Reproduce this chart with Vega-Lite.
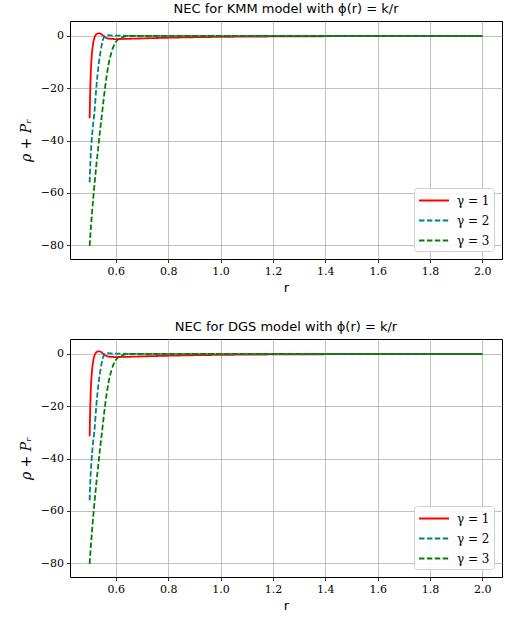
{
  "$schema": "https://vega.github.io/schema/vega-lite/v6.json",
  "padding": {"left": 18, "top": 2, "right": 11, "bottom": 5},
  "background": "white",
  "datasets": {
    "nec": [
      {"m":"KMM","g":"γ = 1","r":0.5,"v":-31.5},{"m":"KMM","g":"γ = 1","r":0.502,"v":-22},{"m":"KMM","g":"γ = 1","r":0.504,"v":-15},{"m":"KMM","g":"γ = 1","r":0.507,"v":-9},{"m":"KMM","g":"γ = 1","r":0.51,"v":-5.5},{"m":"KMM","g":"γ = 1","r":0.514,"v":-2.5},{"m":"KMM","g":"γ = 1","r":0.518,"v":-0.8},{"m":"KMM","g":"γ = 1","r":0.523,"v":0.3},{"m":"KMM","g":"γ = 1","r":0.53,"v":0.9},{"m":"KMM","g":"γ = 1","r":0.537,"v":1.0},{"m":"KMM","g":"γ = 1","r":0.544,"v":0.7},{"m":"KMM","g":"γ = 1","r":0.55,"v":0.2},{"m":"KMM","g":"γ = 1","r":0.556,"v":-0.3},{"m":"KMM","g":"γ = 1","r":0.563,"v":-0.7},{"m":"KMM","g":"γ = 1","r":0.572,"v":-1.0},{"m":"KMM","g":"γ = 1","r":0.585,"v":-1.15},{"m":"KMM","g":"γ = 1","r":0.6,"v":-1.2},{"m":"KMM","g":"γ = 1","r":0.63,"v":-1.15},{"m":"KMM","g":"γ = 1","r":0.67,"v":-1.05},{"m":"KMM","g":"γ = 1","r":0.72,"v":-0.9},{"m":"KMM","g":"γ = 1","r":0.8,"v":-0.7},{"m":"KMM","g":"γ = 1","r":0.9,"v":-0.5},{"m":"KMM","g":"γ = 1","r":1.0,"v":-0.37},{"m":"KMM","g":"γ = 1","r":1.1,"v":-0.27},{"m":"KMM","g":"γ = 1","r":1.25,"v":-0.18},{"m":"KMM","g":"γ = 1","r":1.4,"v":-0.12},{"m":"KMM","g":"γ = 1","r":1.6,"v":-0.08},{"m":"KMM","g":"γ = 1","r":1.8,"v":-0.05},{"m":"KMM","g":"γ = 1","r":2.0,"v":-0.03},
      {"m":"KMM","g":"γ = 2","r":0.5,"v":-56},{"m":"KMM","g":"γ = 2","r":0.503,"v":-48},{"m":"KMM","g":"γ = 2","r":0.507,"v":-41},{"m":"KMM","g":"γ = 2","r":0.512,"v":-35},{"m":"KMM","g":"γ = 2","r":0.519,"v":-28.5},{"m":"KMM","g":"γ = 2","r":0.525,"v":-20.5},{"m":"KMM","g":"γ = 2","r":0.53,"v":-15},{"m":"KMM","g":"γ = 2","r":0.535,"v":-10.5},{"m":"KMM","g":"γ = 2","r":0.541,"v":-6.4},{"m":"KMM","g":"γ = 2","r":0.546,"v":-3.5},{"m":"KMM","g":"γ = 2","r":0.551,"v":-1.4},{"m":"KMM","g":"γ = 2","r":0.556,"v":-0.3},{"m":"KMM","g":"γ = 2","r":0.562,"v":0.2},{"m":"KMM","g":"γ = 2","r":0.57,"v":0.3},{"m":"KMM","g":"γ = 2","r":0.58,"v":0.2},{"m":"KMM","g":"γ = 2","r":0.6,"v":0.1},{"m":"KMM","g":"γ = 2","r":0.7,"v":0.03},{"m":"KMM","g":"γ = 2","r":1.0,"v":0.01},{"m":"KMM","g":"γ = 2","r":1.5,"v":0.0},{"m":"KMM","g":"γ = 2","r":2.0,"v":0.0},
      {"m":"KMM","g":"γ = 3","r":0.5,"v":-80.3},{"m":"KMM","g":"γ = 3","r":0.505,"v":-73},{"m":"KMM","g":"γ = 3","r":0.51,"v":-66.5},{"m":"KMM","g":"γ = 3","r":0.517,"v":-58.5},{"m":"KMM","g":"γ = 3","r":0.525,"v":-50},{"m":"KMM","g":"γ = 3","r":0.533,"v":-42.5},{"m":"KMM","g":"γ = 3","r":0.54,"v":-36},{"m":"KMM","g":"γ = 3","r":0.547,"v":-30},{"m":"KMM","g":"γ = 3","r":0.555,"v":-23},{"m":"KMM","g":"γ = 3","r":0.564,"v":-16},{"m":"KMM","g":"γ = 3","r":0.573,"v":-10.5},{"m":"KMM","g":"γ = 3","r":0.583,"v":-6.4},{"m":"KMM","g":"γ = 3","r":0.592,"v":-3.8},{"m":"KMM","g":"γ = 3","r":0.6,"v":-2.3},{"m":"KMM","g":"γ = 3","r":0.609,"v":-1.3},{"m":"KMM","g":"γ = 3","r":0.62,"v":-0.6},{"m":"KMM","g":"γ = 3","r":0.635,"v":-0.2},{"m":"KMM","g":"γ = 3","r":0.65,"v":0.0},{"m":"KMM","g":"γ = 3","r":0.7,"v":0.02},{"m":"KMM","g":"γ = 3","r":1.0,"v":0.01},{"m":"KMM","g":"γ = 3","r":2.0,"v":0.0},
      {"m":"DGS","g":"γ = 1","r":0.5,"v":-31.5},{"m":"DGS","g":"γ = 1","r":0.502,"v":-22},{"m":"DGS","g":"γ = 1","r":0.504,"v":-15},{"m":"DGS","g":"γ = 1","r":0.507,"v":-9},{"m":"DGS","g":"γ = 1","r":0.51,"v":-5.5},{"m":"DGS","g":"γ = 1","r":0.514,"v":-2.5},{"m":"DGS","g":"γ = 1","r":0.518,"v":-0.8},{"m":"DGS","g":"γ = 1","r":0.523,"v":0.3},{"m":"DGS","g":"γ = 1","r":0.53,"v":0.9},{"m":"DGS","g":"γ = 1","r":0.537,"v":1.0},{"m":"DGS","g":"γ = 1","r":0.544,"v":0.7},{"m":"DGS","g":"γ = 1","r":0.55,"v":0.2},{"m":"DGS","g":"γ = 1","r":0.556,"v":-0.3},{"m":"DGS","g":"γ = 1","r":0.563,"v":-0.7},{"m":"DGS","g":"γ = 1","r":0.572,"v":-1.0},{"m":"DGS","g":"γ = 1","r":0.585,"v":-1.15},{"m":"DGS","g":"γ = 1","r":0.6,"v":-1.2},{"m":"DGS","g":"γ = 1","r":0.63,"v":-1.15},{"m":"DGS","g":"γ = 1","r":0.67,"v":-1.05},{"m":"DGS","g":"γ = 1","r":0.72,"v":-0.9},{"m":"DGS","g":"γ = 1","r":0.8,"v":-0.7},{"m":"DGS","g":"γ = 1","r":0.9,"v":-0.5},{"m":"DGS","g":"γ = 1","r":1.0,"v":-0.37},{"m":"DGS","g":"γ = 1","r":1.1,"v":-0.27},{"m":"DGS","g":"γ = 1","r":1.25,"v":-0.18},{"m":"DGS","g":"γ = 1","r":1.4,"v":-0.12},{"m":"DGS","g":"γ = 1","r":1.6,"v":-0.08},{"m":"DGS","g":"γ = 1","r":1.8,"v":-0.05},{"m":"DGS","g":"γ = 1","r":2.0,"v":-0.03},
      {"m":"DGS","g":"γ = 2","r":0.5,"v":-56},{"m":"DGS","g":"γ = 2","r":0.503,"v":-48},{"m":"DGS","g":"γ = 2","r":0.507,"v":-41},{"m":"DGS","g":"γ = 2","r":0.512,"v":-35},{"m":"DGS","g":"γ = 2","r":0.519,"v":-28.5},{"m":"DGS","g":"γ = 2","r":0.525,"v":-20.5},{"m":"DGS","g":"γ = 2","r":0.53,"v":-15},{"m":"DGS","g":"γ = 2","r":0.535,"v":-10.5},{"m":"DGS","g":"γ = 2","r":0.541,"v":-6.4},{"m":"DGS","g":"γ = 2","r":0.546,"v":-3.5},{"m":"DGS","g":"γ = 2","r":0.551,"v":-1.4},{"m":"DGS","g":"γ = 2","r":0.556,"v":-0.3},{"m":"DGS","g":"γ = 2","r":0.562,"v":0.2},{"m":"DGS","g":"γ = 2","r":0.57,"v":0.3},{"m":"DGS","g":"γ = 2","r":0.58,"v":0.2},{"m":"DGS","g":"γ = 2","r":0.6,"v":0.1},{"m":"DGS","g":"γ = 2","r":0.7,"v":0.03},{"m":"DGS","g":"γ = 2","r":1.0,"v":0.01},{"m":"DGS","g":"γ = 2","r":1.5,"v":0.0},{"m":"DGS","g":"γ = 2","r":2.0,"v":0.0},
      {"m":"DGS","g":"γ = 3","r":0.5,"v":-80.3},{"m":"DGS","g":"γ = 3","r":0.505,"v":-73},{"m":"DGS","g":"γ = 3","r":0.51,"v":-66.5},{"m":"DGS","g":"γ = 3","r":0.517,"v":-58.5},{"m":"DGS","g":"γ = 3","r":0.525,"v":-50},{"m":"DGS","g":"γ = 3","r":0.533,"v":-42.5},{"m":"DGS","g":"γ = 3","r":0.54,"v":-36},{"m":"DGS","g":"γ = 3","r":0.547,"v":-30},{"m":"DGS","g":"γ = 3","r":0.555,"v":-23},{"m":"DGS","g":"γ = 3","r":0.564,"v":-16},{"m":"DGS","g":"γ = 3","r":0.573,"v":-10.5},{"m":"DGS","g":"γ = 3","r":0.583,"v":-6.4},{"m":"DGS","g":"γ = 3","r":0.592,"v":-3.8},{"m":"DGS","g":"γ = 3","r":0.6,"v":-2.3},{"m":"DGS","g":"γ = 3","r":0.609,"v":-1.3},{"m":"DGS","g":"γ = 3","r":0.62,"v":-0.6},{"m":"DGS","g":"γ = 3","r":0.635,"v":-0.2},{"m":"DGS","g":"γ = 3","r":0.65,"v":0.0},{"m":"DGS","g":"γ = 3","r":0.7,"v":0.02},{"m":"DGS","g":"γ = 3","r":1.0,"v":0.01},{"m":"DGS","g":"γ = 3","r":2.0,"v":0.0}
    ]
  },
  "spacing": 25,
  "vconcat": [
    {
      "title": "NEC for KMM model with ϕ(r) = k/r",
      "width": 432, "height": 238,
      "data": {"name": "nec"},
      "transform": [{"filter": "datum.m === 'KMM'"}],
      "mark": {"type": "line", "strokeWidth": 1.8, "interpolate": "monotone"},
      "encoding": {
        "x": {"field": "r", "type": "quantitative", "title": "r",
              "scale": {"domain": [0.425, 2.075], "nice": false, "zero": false},
              "axis": {"values": [0.6, 0.8, 1.0, 1.2, 1.4, 1.6, 1.8, 2.0], "format": ".1f"}},
        "y": {"field": "v", "type": "quantitative", "title": "ρ + Pᵣ",
              "scale": {"domain": [-85.3, 5.7], "nice": false, "zero": false},
              "axis": {"values": [-80, -60, -40, -20, 0], "format": "d"}},
        "color": {"field": "g", "type": "nominal",
                  "scale": {"domain": ["γ = 1", "γ = 2", "γ = 3"], "range": ["#ff0000", "#008080", "#008000"]},
                  "legend": {"title": null}},
        "strokeDash": {"field": "g", "type": "nominal",
                  "scale": {"domain": ["γ = 1", "γ = 2", "γ = 3"], "range": [[1, 0], [5.5, 2.4], [5.5, 2.4]]},
                  "legend": {"title": null}}
      }
    },
    {
      "title": "NEC for DGS model with ϕ(r) = k/r",
      "width": 432, "height": 238,
      "data": {"name": "nec"},
      "transform": [{"filter": "datum.m === 'DGS'"}],
      "mark": {"type": "line", "strokeWidth": 1.8, "interpolate": "monotone"},
      "encoding": {
        "x": {"field": "r", "type": "quantitative", "title": "r",
              "scale": {"domain": [0.425, 2.075], "nice": false, "zero": false},
              "axis": {"values": [0.6, 0.8, 1.0, 1.2, 1.4, 1.6, 1.8, 2.0], "format": ".1f"}},
        "y": {"field": "v", "type": "quantitative", "title": "ρ + Pᵣ",
              "scale": {"domain": [-85.3, 5.7], "nice": false, "zero": false},
              "axis": {"values": [-80, -60, -40, -20, 0], "format": "d"}},
        "color": {"field": "g", "type": "nominal",
                  "scale": {"domain": ["γ = 1", "γ = 2", "γ = 3"], "range": ["#ff0000", "#008080", "#008000"]},
                  "legend": {"title": null}},
        "strokeDash": {"field": "g", "type": "nominal",
                  "scale": {"domain": ["γ = 1", "γ = 2", "γ = 3"], "range": [[1, 0], [5.5, 2.4], [5.5, 2.4]]},
                  "legend": {"title": null}}
      }
    }
  ],
  "resolve": {"legend": {"color": "independent", "strokeDash": "independent"}, "scale": {"color": "independent", "strokeDash": "independent"}},
  "config": {
    "view": {"stroke": "#000000", "strokeWidth": 1},
    "title": {"font": "DejaVu Sans", "fontSize": 13, "fontWeight": "normal", "color": "#000000", "offset": 5, "anchor": "middle"},
    "axis": {
      "domain": false,
      "grid": true, "gridColor": "#b0b0b0", "gridWidth": 0.8,
      "ticks": true, "tickColor": "#000000", "tickSize": 3.5, "tickWidth": 0.8,
      "labelFont": "DejaVu Serif", "labelFontSize": 11, "labelColor": "#000000", "labelPadding": 3,
      "titleColor": "#000000", "titleFontWeight": "normal"
    },
    "axisX": {"titleFont": "DejaVu Sans", "titleFontSize": 13, "titlePadding": 5},
    "axisY": {"titleFont": "DejaVu Serif", "titleFontStyle": "italic", "titleFontSize": 14, "titlePadding": 7},
    "legend": {
      "orient": "bottom-right", "offset": 8,
      "fillColor": "rgba(255,255,255,0.85)", "strokeColor": "#d0d0d0", "cornerRadius": 3, "padding": 4,
      "symbolType": "M-1,0L3,0", "symbolSize": 225, "symbolStrokeWidth": 1.8,
      "labelFont": "DejaVu Serif", "labelFontSize": 12, "labelColor": "#000000", "labelOffset": 22,
      "rowPadding": 5
    }
  }
}
